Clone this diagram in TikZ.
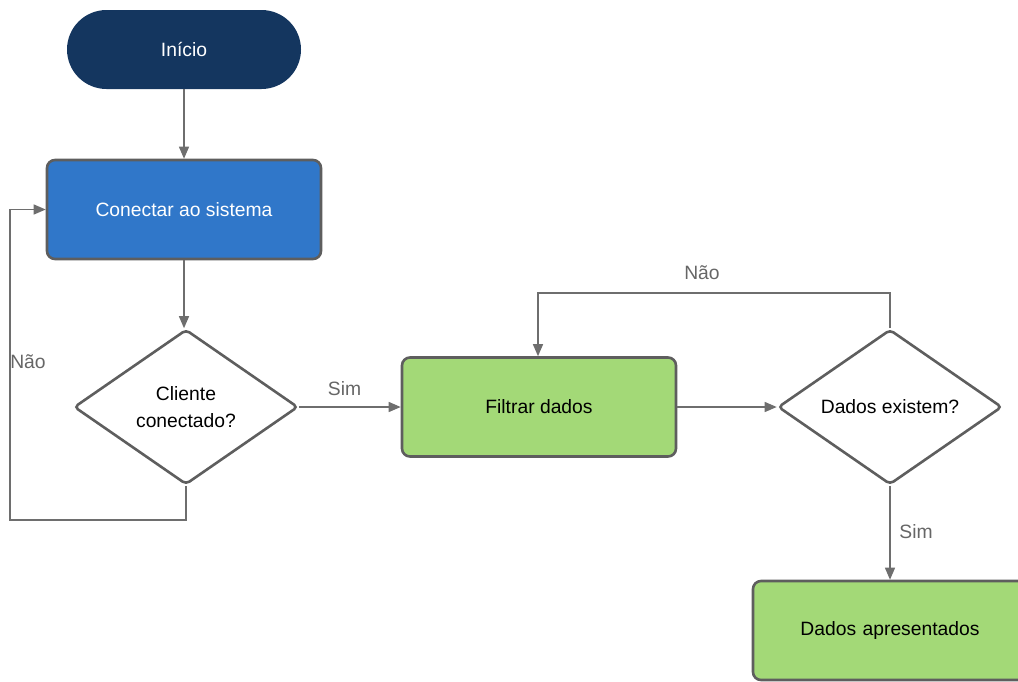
\documentclass[tikz,border=0pt]{standalone}
\usepackage{fontspec}
\setmainfont{Liberation Sans}
\usetikzlibrary{arrows.meta,shapes.geometric,shapes.misc}
\definecolor{navy}{HTML}{14365F}
\definecolor{bluebox}{HTML}{3077C9}
\definecolor{greenbox}{HTML}{A3D977}
\definecolor{edgegray}{HTML}{5E5E5E}
\definecolor{linegray}{HTML}{6E6E6E}
\definecolor{labelgray}{HTML}{666666}
\tikzset{
  x=1pt, y=-1pt,
  every node/.style={font=\fontsize{19.3}{27}\selectfont},
  terminal/.style={rounded rectangle, fill=navy, text=white,
    minimum width=234pt, minimum height=79pt, inner sep=0pt},
  process/.style={rectangle, rounded corners=8pt, draw=edgegray, line width=2.6pt,
    minimum width=274pt, minimum height=99pt, inner sep=0pt, align=center},
  decision/.style={diamond, rounded corners=4pt, draw=edgegray, line width=2.6pt, fill=white,
    minimum width=224pt, minimum height=155pt, aspect=1.445, inner sep=0pt, align=center},
  flow/.style={draw=linegray, line width=1.3pt,
    -{Triangle[length=12pt,width=10pt]}},
  edgelabel/.style={text=labelgray, inner sep=2pt},
}
\begin{document}
\begin{tikzpicture}
\useasboundingbox (0,0) rectangle (1018,681);

% nodes
\node[terminal] (start) at (184,49.5) {Início};
\node[process, fill=bluebox, text=white] (connect) at (184,209.5) {Conectar ao sistema};
\node[decision] (client) at (186,407) {Cliente\\conectado?};
\node[process, fill=greenbox] (filter) at (539,407) {Filtrar dados};
\node[decision] (exists) at (890,407) {Dados existem?};
\node[process, fill=greenbox, minimum width=274pt, text width=264pt] (shown) at (890,630.5) {Dados apresentados};

% helper points for the loops
\coordinate (loopA) at (186,520);
\coordinate (loopB) at (10,520);
\coordinate (loopC) at (10,209.5);
\coordinate (topR) at (890,293);
\coordinate (topL) at (538,293);

% connectors
\draw[flow] (start.south) -- (connect.north);
\draw[flow] (connect.south) -- (connect.south |- client.north);
\draw[flow] (client.south) -- (loopA) -- (loopB) -- (loopC) -- (connect.west);
\draw[flow] (client.east) -- (filter.west);
\draw[flow] (filter.east) -- (exists.west);
\draw[flow] (exists.north) -- (topR) -- (topL) -- (topL |- filter.north);
\draw[flow] (exists.south) -- (exists.south |- shown.north);

% labels
\node[edgelabel] (lblNo1) at (28,362) {Não};
\node[edgelabel] (lblYes1) at (344.5,389) {Sim};
\node[edgelabel] (lblNo2) at (702,273) {Não};
\node[edgelabel] (lblYes2) at (916,532) {Sim};
\end{tikzpicture}
\end{document}
